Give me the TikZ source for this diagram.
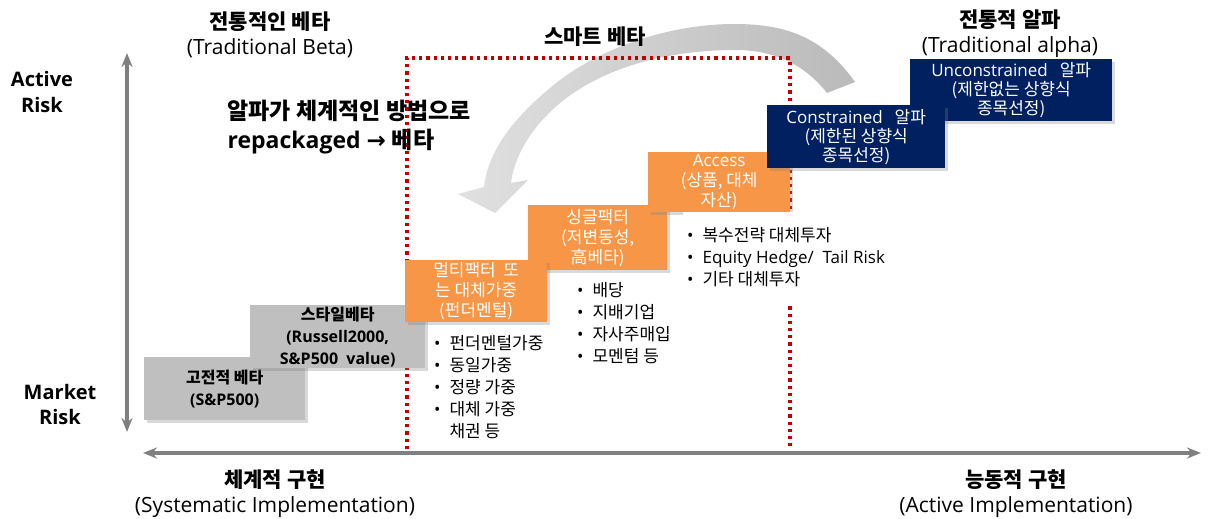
\documentclass[tikz,border=0pt]{standalone}
\usepackage{fontspec}
\setmainfont{Open Sans}
\newfontfamily\kr{Noto Sans CJK KR}
\newfontfamily\djv{DejaVu Sans}
\usetikzlibrary{arrows.meta,shadows}
\definecolor{cardgray}{HTML}{BFBFBF}
\definecolor{cardorange}{HTML}{F79646}
\definecolor{cardnavy}{HTML}{002060}
\definecolor{axisgray}{HTML}{808080}
\definecolor{smartred}{HTML}{C00000}
\newcommand\bul{{\rmfamily\textbullet}}
\tikzset{
  shadowed/.style={drop shadow={shadow xshift=3pt,shadow yshift=-3pt,opacity=.3}},
  card/.style={shadowed,inner sep=0pt,align=center,anchor=north west},
  graycard/.style={card,fill=cardgray,text=black,font=\bfseries\fontsize{16}{22}\selectfont},
  orangecard/.style={card,fill=cardorange,text=white,font=\kr\fontsize{17}{20}\selectfont},
  navycard/.style={card,fill=cardnavy,text=white,font=\kr\fontsize{17}{19}\selectfont},
  title/.style={align=center,font=\fontsize{21}{25}\selectfont},
  axislabel/.style={align=center,font=\bfseries\fontsize{20}{25}\selectfont},
  bullets/.style={anchor=north west,inner sep=0pt,align=left,font=\kr\fontsize{17}{22}\selectfont},
  axis/.style={draw=axisgray,line width=3.2pt,{Stealth[length=14pt,width=11pt]}-{Stealth[length=14pt,width=11pt]}},
  smartbox/.style={draw=smartred,line width=3.2pt,dash pattern=on 3.2pt off 4pt},
}
\begin{document}
\begin{tikzpicture}[x=1pt,y=-1pt]
\useasboundingbox (0,0) rectangle (1208,519);
% curved arrow (alpha repackaged into beta)
\shade[left color=black!12,right color=black!27]
  (855,82) .. controls (825,40) and (790,24) .. (735,24)
  .. controls (665,24) and (600,50) .. (560,80)
  .. controls (515,115) and (488,150) .. (484,187)
  -- (458,194) -- (495,213) -- (528,180) -- (511,183)
  .. controls (515,150) and (540,115) .. (575,92)
  .. controls (620,62) and (680,50) .. (735,50)
  .. controls (775,50) and (805,65) .. (827,93) -- cycle;
% axes
\coordinate (vtop) at (127,53);
\coordinate (vbot) at (127,432);
\coordinate (hleft) at (143,453);
\coordinate (hright) at (1201,453);
\draw[axis] (vbot) -- (vtop);
\draw[axis] (hleft) -- (hright);
% smart beta region
\coordinate (sbl) at (407,449);
\coordinate (sbtl) at (407,58);
\coordinate (sbtr) at (790,58);
\coordinate (sbr) at (790,449);
\draw[smartbox] (sbl) -- (sbtl) -- (sbtr) -- (sbr);
% labels
\node[axislabel] (active) at (42,92) {Active\\Risk};
\node[axislabel] (market) at (60,404) {Market\\Risk};
\node[title] (tbeta) at (270,35) {{\kr\bfseries 전통적인 베타}\\(Traditional Beta)};
\node[title] (smart) at (595,37) {\kr\bfseries 스마트 베타};
\node[title] (talpha) at (1010,34) {{\kr\bfseries 전통적 알파}\\(Traditional alpha)};
\node[title] (sys) at (275,494) {{\kr\bfseries 체계적 구현}\\(Systematic Implementation)};
\node[title] (act) at (1016,494) {{\kr\bfseries 능동적 구현}\\(Active Implementation)};
\node[anchor=west,align=left,font=\bfseries\fontsize{23}{29}\selectfont] (repack) at (224,127)
  {{\kr 알파가 체계적인 방법으로}\\repackaged {\djv\bfseries →} {\kr 베타}};
% boxes
\node[graycard,minimum width=161pt,minimum height=63pt] (classic) at (144,357)
  {{\kr 고전적\ 베타}\\(S\&P500)};
\node[graycard,minimum width=175pt,minimum height=63pt] (style) at (250,305)
  {{\kr 스타일베타}\\(Russell2000,\\S\&P500\ \ value)};
\node[orangecard,minimum width=139pt,minimum height=65pt] (single) at (528,205)
  {싱글팩터\\(저변동성,\\高베타)};
\node[orangecard,minimum width=142pt,minimum height=62pt] (multi) at (405,260)
  {멀티팩터\ \ 또\\는\ 대체가중\\(펀더멘털)};
\node[orangecard,minimum width=142pt,minimum height=60pt] (access) at (648,152)
  {{\rmfamily Access}\\(상품,\ 대체\\자산)};
% bullet lists
\node[bullets] (multilist) at (434,334) {\begin{tabular}{@{}l@{\hspace{9pt}}l@{}}
  \bul & 펀더멘털가중\\ \bul & 동일가중\\ \bul & 정량\ 가중\\ \bul & 대체\ 가중\\ & 채권\ 등
  \end{tabular}};
\node[bullets] (singlelist) at (577,281) {\begin{tabular}{@{}l@{\hspace{9pt}}l@{}}
  \bul & 배당\\ \bul & 지배기업\\ \bul & 자사주매입\\ \bul & 모멘텀\ 등
  \end{tabular}};
\node[bullets,fill=white,inner xsep=4pt,inner ysep=14pt] (accesslist) at (683,212) {\begin{tabular}{@{}l@{\hspace{9pt}}l@{}}
  \bul & 복수전략\ 대체투자\\ \bul & {\rmfamily Equity\ Hedge/\ \ Tail\ Risk}\\ \bul & 기타\ 대체투자
  \end{tabular}};
\node[navycard,minimum width=202pt,minimum height=62pt] (uncon) at (910,59)
  {{\rmfamily Unconstrained}\hspace{12pt}알파\\(제한없는\ 상향식\\종목선정)};
\node[navycard,minimum width=178pt,minimum height=63pt] (con) at (767,105)
  {{\rmfamily Constrained}\hspace{12pt}알파\\(제한된\ 상향식\\종목선정)};
\end{tikzpicture}
\end{document}
